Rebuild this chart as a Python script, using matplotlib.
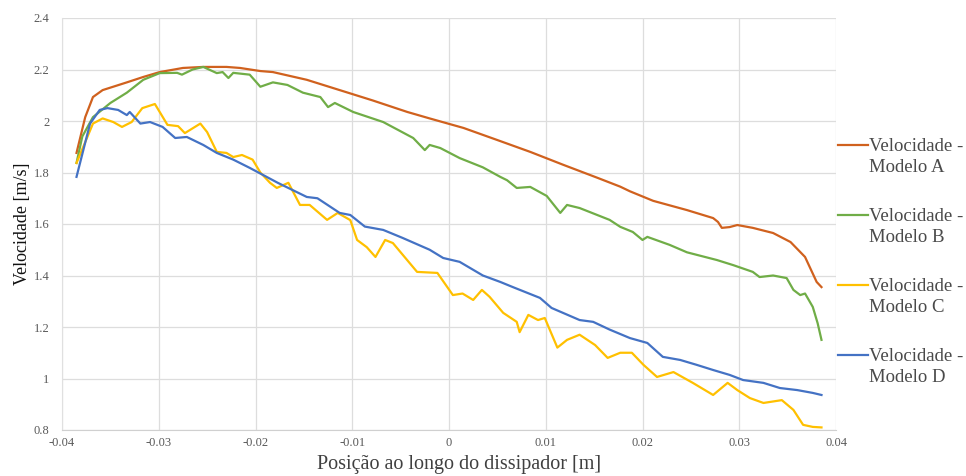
import matplotlib
matplotlib.use("Agg")
import matplotlib.pyplot as plt
from matplotlib.lines import Line2D

plt.rcParams['font.family'] = ['Liberation Serif', 'DejaVu Serif']

# ---- data ----
xA = [-0.0385, -0.0376, -0.0368, -0.0358, -0.0333, -0.0316, -0.0299, -0.0275, -0.0254, -0.0230,
      -0.0216, -0.0195, -0.0182, -0.0147, -0.0113, -0.0079, -0.0043, -0.0020, 0.0015, 0.0050,
      0.0084, 0.0118, 0.0153, 0.0177, 0.0187, 0.0211, 0.0246, 0.0273, 0.0278, 0.0282,
      0.0290, 0.0298, 0.0314, 0.0335, 0.0353, 0.0368, 0.0380, 0.0385]
yA = [1.876, 2.015, 2.093, 2.12, 2.15, 2.171, 2.19, 2.206, 2.21, 2.21,
      2.206, 2.194, 2.19, 2.16, 2.12, 2.08, 2.035, 2.01, 1.973, 1.926,
      1.88, 1.83, 1.78, 1.745, 1.727, 1.69, 1.654, 1.623, 1.608, 1.585,
      1.588, 1.596, 1.585, 1.565, 1.53, 1.472, 1.375, 1.355]

xB = [-0.0385, -0.0379, -0.0368, -0.0350, -0.0333, -0.0316, -0.0299, -0.0281, -0.0276, -0.0265,
      -0.0254, -0.0240, -0.0234, -0.0228, -0.0223, -0.0206, -0.0195, -0.0182, -0.0167, -0.0151,
      -0.0133, -0.0125, -0.0118, -0.0099, -0.0068, -0.0037, -0.0025, -0.0020, -0.0009, 0.0011,
      0.0035, 0.0053, 0.0060, 0.0070, 0.0084, 0.0101, 0.0115, 0.0122, 0.0135, 0.0166,
      0.0177, 0.0190, 0.0200, 0.0205, 0.0228, 0.0246, 0.0277, 0.0294, 0.0314, 0.0321,
      0.0335, 0.0349, 0.0356, 0.0363, 0.0368, 0.0376, 0.0381, 0.0385]
yB = [1.837, 1.94, 2.015, 2.07, 2.11, 2.16, 2.186, 2.187, 2.18, 2.20,
      2.21, 2.186, 2.19, 2.167, 2.187, 2.18, 2.133, 2.15, 2.14, 2.11,
      2.093, 2.054, 2.07, 2.035, 1.996, 1.934, 1.887, 1.907, 1.895, 1.856,
      1.82, 1.783, 1.77, 1.74, 1.744, 1.709, 1.643, 1.674, 1.662, 1.616,
      1.589, 1.569, 1.538, 1.55, 1.519, 1.49, 1.46, 1.44, 1.414, 1.394,
      1.40, 1.39, 1.344, 1.324, 1.33, 1.278, 1.215, 1.15]

xC = [-0.0385, -0.0368, -0.0358, -0.0347, -0.0338, -0.0328, -0.0317, -0.0304, -0.0299, -0.0291,
      -0.0280, -0.0273, -0.0257, -0.0250, -0.0240, -0.0230, -0.0223, -0.0214, -0.0203, -0.0195,
      -0.0185, -0.0178, -0.0166, -0.0154, -0.0144, -0.0126, -0.0115, -0.0102, -0.0095, -0.0085,
      -0.0076, -0.0066, -0.0058, -0.0033, -0.0012, 0.0004, 0.0014, 0.0025, 0.0034, 0.0042,
      0.0056, 0.0070, 0.0073, 0.0082, 0.0092, 0.0099, 0.0112, 0.0122, 0.0135, 0.0151,
      0.0164, 0.0177, 0.0189, 0.0201, 0.0215, 0.0232, 0.0252, 0.0273, 0.0288, 0.0298,
      0.0311, 0.0325, 0.0344, 0.0356, 0.0366, 0.0376, 0.0385]
yC = [1.837, 1.99, 2.01, 1.996, 1.977, 1.996, 2.05, 2.066, 2.035, 1.985,
      1.98, 1.953, 1.99, 1.957, 1.88, 1.876, 1.86, 1.868, 1.85, 1.80,
      1.76, 1.74, 1.76, 1.674, 1.674, 1.616, 1.643, 1.615, 1.538, 1.51,
      1.472, 1.538, 1.526, 1.414, 1.41, 1.324, 1.33, 1.305, 1.344, 1.317,
      1.255, 1.22, 1.18, 1.247, 1.227, 1.235, 1.12, 1.15, 1.17, 1.13,
      1.08, 1.10, 1.10, 1.053, 1.006, 1.025, 0.983, 0.936, 0.983, 0.955,
      0.924, 0.905, 0.916, 0.878, 0.82, 0.812, 0.81]

xD = [-0.0385, -0.0371, -0.0361, -0.0353, -0.0342, -0.0333, -0.0330, -0.0319, -0.0309, -0.0296,
      -0.0283, -0.0271, -0.0254, -0.0240, -0.0223, -0.0206, -0.0177, -0.0147, -0.0136, -0.0113,
      -0.0102, -0.0087, -0.0068, -0.0048, -0.0020, -0.0006, 0.0011, 0.0035, 0.0053, 0.0066,
      0.0094, 0.0106, 0.0135, 0.0149, 0.0166, 0.0187, 0.0205, 0.0221, 0.0239, 0.0256,
      0.0273, 0.0290, 0.0304, 0.0325, 0.0342, 0.0360, 0.0376, 0.0385]
yD = [1.783, 1.99, 2.043, 2.05, 2.043, 2.023, 2.035, 1.99, 1.996, 1.977,
      1.934, 1.938, 1.907, 1.876, 1.85, 1.818, 1.76, 1.705, 1.70, 1.643,
      1.635, 1.59, 1.577, 1.546, 1.50, 1.468, 1.453, 1.40, 1.375, 1.355,
      1.313, 1.274, 1.227, 1.22, 1.19, 1.157, 1.138, 1.084, 1.072, 1.053,
      1.033, 1.014, 0.994, 0.983, 0.963, 0.955, 0.944, 0.936]

series_labels = ["Velocidade -\nModelo A", "Velocidade -\nModelo B",
                 "Velocidade -\nModelo C", "Velocidade -\nModelo D"]
colors = ["#D0611E", "#70AD47", "#FFC000", "#4472C4"]

x_ticks = [-0.04, -0.03, -0.02, -0.01, 0, 0.01, 0.02, 0.03, 0.04]
x_tick_labels = ["-0.04", "-0.03", "-0.02", "-0.01", "0", "0.01", "0.02", "0.03", "0.04"]
y_ticks = [0.8, 1.0, 1.2, 1.4, 1.6, 1.8, 2.0, 2.2, 2.4]
y_tick_labels = ["0.8", "1", "1.2", "1.4", "1.6", "1.8", "2", "2.2", "2.4"]

xlabel = "Posição ao longo do dissipador [m]"
ylabel = "Velocidade [m/s]"

# ---- figure ----
fig = plt.figure(figsize=(9.66, 4.76), dpi=100)
ax = fig.add_axes([62/966, 1 - 430/476, (836 - 62)/966, (430 - 18)/476])

for xs, ys, c in zip([xA, xB, xC, xD], [yA, yB, yC, yD], colors):
    ax.plot(xs, ys, color=c, lw=1.6, solid_joinstyle='round')

ax.set_xlim(-0.04, 0.04)
ax.set_ylim(0.8, 2.4)
ax.set_xticks(x_ticks)
ax.set_xticklabels(x_tick_labels)
ax.set_yticks(y_ticks)
ax.set_yticklabels(y_tick_labels)
ax.tick_params(axis='both', length=0, labelsize=9, labelcolor='#595959')
ax.tick_params(axis='y', pad=9)
ax.tick_params(axis='x', pad=5)
ax.grid(True, color='#DDDDDD', lw=0.9)
ax.set_axisbelow(True)
for s in ax.spines.values():
    s.set_visible(False)
ax.spines['bottom'].set_visible(True)
ax.spines['bottom'].set_color('#D0D0D0')
ax.spines['left'].set_visible(True)
ax.spines['left'].set_color('#E0E0E0')

ax.set_xlabel(xlabel, fontsize=14.5, color='#404040')
ax.xaxis.set_label_coords((459 - 62) / 774, (430 - 455) / 412)
ax.set_ylabel(ylabel, fontsize=13, color='#111111', labelpad=2)

# legend (manual, handle aligned with first text line)
leg_y = [145, 215, 285, 355]
for yy, lab, c in zip(leg_y, series_labels, colors):
    yf = 1 - yy / 476
    fig.add_artist(Line2D([838/966, 868/966], [yf, yf], color=c, lw=1.6,
                          transform=fig.transFigure))
    fig.text(869/966, yf + 7/476, lab, fontsize=13.5, color='#4a4a4a',
             va='top', ha='left', linespacing=1.28)

fig.savefig("out.png", dpi=100)
